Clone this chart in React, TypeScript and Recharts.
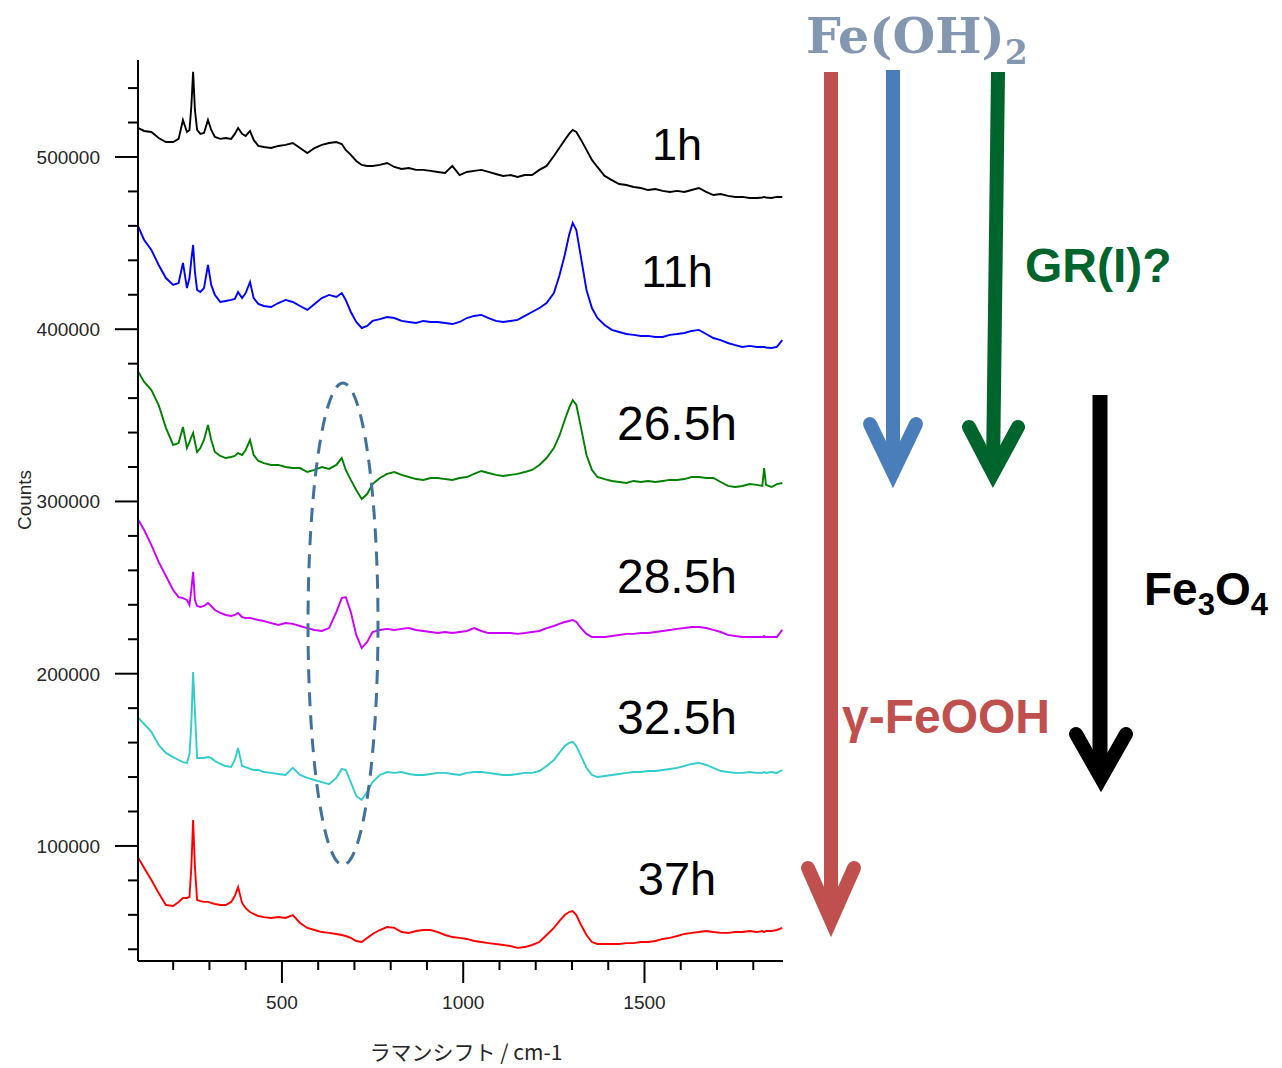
import React from 'react';
import { LineChart, Line, XAxis, YAxis } from 'recharts';

// Raman shift grid (cm-1)
const shift = [104,120,140,160,180,200,215,227,238,245,250,255,260,266,275,285,296,305,315,330,345,360,370,379,390,400,412,422,435,450,470,490,510,530,550,570,590,610,630,650,665,676,690,705,720,735,750,770,790,810,830,850,870,890,910,930,950,970,990,1010,1030,1050,1070,1090,1110,1130,1150,1170,1190,1210,1230,1250,1265,1280,1292,1302,1312,1325,1340,1355,1370,1390,1410,1430,1450,1470,1490,1510,1530,1550,1570,1590,1610,1630,1650,1670,1690,1710,1730,1750,1770,1790,1810,1825,1830,1835,1850,1865,1880];

const h1 = [516800,515100,514500,511000,508700,508700,510500,521500,514500,515700,
529000,549400,527300,515700,513400,513900,521500,515700,511600,510500,
511000,510500,513400,516800,513400,512200,515100,509900,506400,505800,
505200,506400,507000,508100,505200,502300,505200,507000,508100,508700,
507500,504100,501200,497700,495400,494800,494800,495400,496500,494200,
493000,493600,492500,492500,491900,491300,490700,494800,489500,491300,
491900,492500,491300,490100,489000,489500,488400,489500,489500,492500,
494800,500600,505200,509900,513400,515700,514500,509900,504100,498300,
494200,489000,486600,484300,483700,482600,482000,480800,481400,480300,
479700,480300,479700,480800,482000,479700,477900,478500,477400,476800,
476800,476200,476200,476500,476800,476500,476200,476800,476800];

const h11 = [459400,451800,446000,437300,429700,425700,426800,438500,423900,429700,
440200,448900,433200,422800,421600,423900,437300,425700,419900,415800,
416400,417000,417600,421600,418100,421000,427400,418100,414700,413500,
412900,415200,417000,415800,413500,411200,414700,418100,419900,418700,
421000,417000,410000,404200,400700,401900,404800,405900,407100,406500,
404800,404200,403600,404800,404200,404200,403600,403000,404200,406500,
407700,408300,406500,404800,404200,404800,405400,407700,410000,412300,
415200,421000,430900,443100,454700,461700,457600,441400,422800,412300,
406500,402500,399600,398400,397200,396700,396100,396100,395500,395500,
396700,397200,397800,399000,399600,397200,394900,393700,392000,390800,
389700,390300,389700,389700,389700,389400,389100,389700,393700];

const h26 = [375200,369400,364700,356000,342700,332800,333900,343200,331000,334500,
337400,339800,334500,328700,331000,335700,344400,335700,328700,326400,
325200,325800,326400,328100,327000,329900,335700,327000,323500,322300,
321200,321200,320000,319400,319400,317100,318300,320000,318900,321200,
325200,318300,312500,306700,301400,304300,310100,313600,316000,317100,
315400,314200,313000,312500,313600,313600,313000,312500,313600,314200,
316000,317700,316500,315400,314800,315400,316000,317100,318300,321200,
325200,331000,338000,347300,354300,358900,356000,342700,327000,318300,
314200,313000,311900,311300,310700,311900,311300,311900,311300,311900,
312500,312500,313000,314200,314200,313600,313600,311300,309000,308400,
309000,310100,309600,309000,319400,309600,308400,310100,310700];

const h28 = [289200,283400,274700,264900,256700,248600,244500,243900,242800,239900,
248600,259100,242800,239300,238700,239300,241100,239300,237000,235300,
234100,233500,234100,235300,232900,232300,232300,231800,231200,230600,
229400,228300,229400,228900,227700,226500,225400,224800,226500,235800,
243900,244500,235800,222500,214900,218400,224200,225400,226000,225400,
226000,226500,225400,224800,224200,223600,224200,223600,224200,224800,
226500,224800,223600,223600,223600,223600,223100,223600,224200,224800,
226500,227700,228900,230000,230600,231200,230000,226500,223100,221300,
221300,221300,221900,222500,223100,223100,223600,223600,224200,224800,
225400,226000,226500,227100,227100,226500,225400,224200,222500,221900,
221300,221300,221300,221300,221900,221300,221300,221300,225400];

const h32 = [174300,170800,166200,158600,154000,151600,149900,148700,148200,153400,
170200,201000,177800,151100,151100,151100,151600,151100,149300,147600,
146400,145800,149900,156900,146400,145800,144700,144100,144100,142900,
142400,141800,141200,145300,141200,139500,138300,137100,135900,139500,
144700,144100,137100,129000,126700,131300,137100,141200,142900,142400,
142900,141800,141200,141200,141800,142400,142400,141800,141200,142400,
142900,142900,142400,141800,141200,141200,141800,142400,142400,143500,
146400,149900,154000,158000,159800,160400,158000,152200,145300,141200,
140000,140600,141200,141800,142400,142900,142900,143500,143500,144100,
144700,145300,146400,147600,148200,147000,145300,143500,142900,142400,
142400,142900,142400,142400,142900,142400,142900,142400,144100];

const h37 = [93000,87200,80200,72700,65700,65100,67500,69800,69800,70400,
87200,115100,87800,68600,68000,67500,67500,66900,66300,65700,
65700,67500,70900,76200,66900,63900,61600,60500,59300,58700,
58200,58700,58200,59900,55300,52400,51200,50000,49500,48900,
48300,47700,46600,44800,44200,46600,48900,51200,52900,52400,
50000,49500,50600,51200,51200,50000,48300,47100,46600,46000,
44800,44200,43600,43100,42500,41900,40800,41300,42500,44200,
48300,52400,56400,59900,61600,62200,59900,54100,48300,44200,
43100,43100,43100,43100,43600,43600,44200,44200,44800,46000,
46600,47700,48900,49500,50000,50600,50000,49500,49500,50000,
50000,50600,50000,50600,50000,50600,50600,51200,52400];

const seriesKeys = ['h1', 'h11', 'h26', 'h28', 'h32', 'h37'];
const seriesColors = ['#000000', '#0000ff', '#008000', '#cc00ff', '#33cccc', '#ff0000'];
const timeLabels = ['1h', '11h', '26.5h', '28.5h', '32.5h', '37h'];

const xTicks = [200,300,400,500,600,700,800,900,1000,1100,1200,1300,1400,1500,1600,1700,1800];
const xTickLabels = [500, 1000, 1500];
const yTicks = [40000,60000,80000,100000,120000,140000,160000,180000,200000,220000,240000,260000,280000,300000,320000,340000,360000,380000,400000,420000,440000,460000,480000,500000,520000,540000];
const yTickLabels = [100000, 200000, 300000, 400000, 500000];

const rows = shift.map((w, i) => ({
  w,
  h1: h1[i],
  h11: h11[i],
  h26: h26[i],
  h28: h28[i],
  h32: h32[i],
  h37: h37[i],
}));

const FONT = '"Liberation Sans", Arial, sans-serif';

const YTick = (props: any) => {
  const { x, y, payload } = props;
  const major = yTickLabels.includes(payload.value);
  return (
    <g>
      <line x1={x - (major ? 23 : 10)} x2={x} y1={y} y2={y} stroke="#000" strokeWidth={2} />
      {major && (
        <text x={x - 38} y={y + 7} textAnchor="end" fontFamily={FONT} fontSize={19} fill="#262626">
          {payload.value}
        </text>
      )}
    </g>
  );
};

const XTick = (props: any) => {
  const { x, y, payload } = props;
  const major = xTickLabels.includes(payload.value);
  return (
    <g>
      <line x1={x} x2={x} y1={y} y2={y + (major ? 22 : 9)} stroke="#000" strokeWidth={2} />
      {major && (
        <text x={x} y={y + 48} textAnchor="middle" fontFamily={FONT} fontSize={19} fill="#262626">
          {payload.value}
        </text>
      )}
    </g>
  );
};

const labelY = [160, 287, 440, 593, 734, 895];
const labelSize = [45, 45, 48, 48, 48, 47];

export default function App() {
  return (
    <div style={{ position: 'absolute', left: 0, top: 0, width: 1282, height: 1068, background: '#fff' }}>
      <LineChart width={1282} height={1068} data={rows} margin={{ top: 60, right: 499, bottom: 0, left: 0 }}>
        <XAxis
          dataKey="w"
          type="number"
          domain={[103, 1882]}
          allowDataOverflow
          ticks={xTicks}
          interval={0}
          height={107}
          tickSize={0}
          tickMargin={0}
          tickLine={false}
          axisLine={{ stroke: '#000', strokeWidth: 2 }}
          tick={<XTick />}
        />
        <YAxis
          type="number"
          domain={[33200, 556300]}
          allowDataOverflow
          ticks={yTicks}
          interval={0}
          width={138}
          tickSize={0}
          tickMargin={0}
          tickLine={false}
          axisLine={{ stroke: '#000', strokeWidth: 2 }}
          tick={<YTick />}
        />
        {seriesKeys.map((k, i) => (
          <Line
            key={k}
            dataKey={k}
            type="linear"
            stroke={seriesColors[i]}
            strokeWidth={1.9}
            dot={false}
            isAnimationActive={false}
          />
        ))}
      </LineChart>
      <svg width={1282} height={1068} style={{ position: 'absolute', left: 0, top: 0, pointerEvents: 'none' }}>
        {/* axis titles */}
        <text transform="translate(31,500) rotate(-90)" textAnchor="middle" fontFamily={FONT} fontSize={19} fill="#262626">
          Counts
        </text>
        <text x={466} y={1060} textAnchor="middle" fontFamily={'"Noto Sans CJK JP", "Liberation Sans", sans-serif'} fontSize={21} fill="#262626">
          ラマンシフト / cm-1
        </text>

        {/* dashed ellipse */}
        <ellipse cx={343} cy={624} rx={35} ry={241} fill="none" stroke="#41719c" strokeWidth={3} strokeDasharray="14 9" />

        {/* time labels */}
        {timeLabels.map((t, i) => (
          <text key={t} x={677} y={labelY[i]} textAnchor="middle" fontFamily={FONT} fontSize={labelSize[i]} fill="#000">
            {t}
          </text>
        ))}

        {/* Fe(OH)2 */}
        <text x={806} y={53} fontFamily={'"DejaVu Serif", serif'} fontWeight="bold" fontSize={49} fill="#8497b0">
          Fe(OH)<tspan fontSize={33} dy={11}>2</tspan>
        </text>

        {/* red arrow */}
        <line x1={831} y1={72} x2={831} y2={915} stroke="#c0504d" strokeWidth={14} />
        <polyline points="808,868 831,920 854,868" fill="none" stroke="#c0504d" strokeWidth={14} strokeLinecap="round" strokeLinejoin="miter" strokeMiterlimit={10} />

        {/* blue arrow */}
        <line x1={893} y1={70} x2={893} y2={468} stroke="#4a7ebb" strokeWidth={14} />
        <polyline points="870,424 893,472 916,424" fill="none" stroke="#4a7ebb" strokeWidth={14} strokeLinecap="round" strokeLinejoin="miter" strokeMiterlimit={10} />

        {/* green arrow */}
        <line x1={998} y1={72} x2={993} y2={470} stroke="#00642d" strokeWidth={14} />
        <polyline points="969,427 993,473 1018,427" fill="none" stroke="#00642d" strokeWidth={14} strokeLinecap="round" strokeLinejoin="miter" strokeMiterlimit={10} />

        {/* black arrow */}
        <line x1={1100} y1={395} x2={1100} y2={775} stroke="#000" strokeWidth={15} />
        <polyline points="1076,734 1101,778 1126,734" fill="none" stroke="#000" strokeWidth={14} strokeLinecap="round" strokeLinejoin="miter" strokeMiterlimit={10} />

        {/* compound labels */}
        <text x={1025} y={282} fontFamily={FONT} fontWeight="bold" fontSize={48} fill="#00642d">
          GR(I)?
        </text>
        <text x={842} y={733} fontFamily={FONT} fontWeight="bold" fontSize={48} fill="#c0504d">
          γ-FeOOH
        </text>
        <text x={1144} y={605} fontFamily={FONT} fontWeight="bold" fontSize={46} fill="#000">
          Fe<tspan fontSize={31} dy={10}>3</tspan><tspan dy={-10}>O</tspan><tspan fontSize={31} dy={10}>4</tspan>
        </text>
      </svg>
    </div>
  );
}
